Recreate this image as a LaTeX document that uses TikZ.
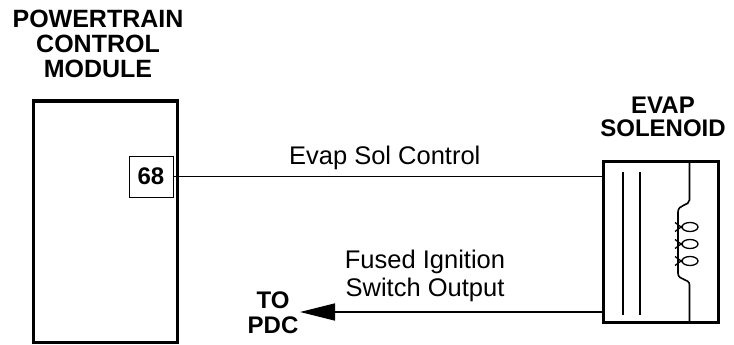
\documentclass[tikz,border=0pt]{standalone}
\usepackage{fontspec}
\setmainfont{Liberation Sans}
\usetikzlibrary{arrows.meta}
\begin{document}
\begin{tikzpicture}[x=1pt,y=-1pt,
  title/.style={font=\bfseries\fontsize{25}{25}\selectfont, align=center, inner sep=0pt},
  soltitle/.style={font=\bfseries\fontsize{24}{23}\selectfont, align=center, inner sep=0pt},
  label/.style={font=\fontsize{25.5}{28}\selectfont, align=center, inner sep=0pt},
  module/.style={draw, line width=3pt, minimum width=#1, inner sep=0pt},
  pinbox/.style={draw, line width=1pt, fill=white, font=\bfseries\fontsize{24}{24}\selectfont, minimum width=44pt, minimum height=41pt, inner sep=0pt},
  wire/.style={line width=1.5pt},
  inner/.style={line width=1.6pt}
]
\useasboundingbox (0,0) rectangle (734,345);

% Powertrain control module
\node[title, anchor=north] (pcmtitle) at (98,10) {POWERTRAIN\\CONTROL\\MODULE};
\node[module=144pt, minimum height=241pt] (pcm) at (105.5,221.5) {};
\node[pinbox] (pin) at (151,176.5) {68};

% Evap solenoid
\node[soltitle, anchor=north] (soltitle) at (663,97) {EVAP\\SOLENOID};
\node[module=115pt, minimum height=161pt] (sol) at (661,241.5) {};

% Connections
\draw[wire] (pin.east) -- (pin.east -| sol.west)
  node[label, midway, anchor=base, yshift=12pt, xshift=-3pt] (ctrl) {Evap Sol Control};

\coordinate (tip) at (300,312);
\draw[wire, -{Triangle[length=35pt,width=17pt]}] (sol.west |- tip) -- (tip);
\node[label, anchor=north] (fused) at (425,250) {Fused Ignition\\Switch Output};
\node[title, font=\bfseries\fontsize{24}{25}\selectfont, anchor=north] (pdc) at (273,292) {TO\\PDC};

% Solenoid internals
\draw[inner] (623,172) -- (623,315);
\draw[inner] (640,172) -- (640,315);
\draw[inner] (689.5,162) -- (689.5,200)
  .. controls (689.5,206) and (678,204) .. (678,212) -- (678,273)
  .. controls (678,281) and (689.5,278) .. (689.5,285) -- (689.5,321);
\foreach \yy in {227,244,261}{
  \draw[line width=1.3pt] (690,\yy) ellipse [x radius=8pt, y radius=4.5pt];
  \draw[line width=1.3pt] (675,\yy-4.5) -- (683,\yy+1.5);
  \draw[line width=1.3pt] (675,\yy+4.5) -- (683,\yy-1.5);
}
\end{tikzpicture}
\end{document}
